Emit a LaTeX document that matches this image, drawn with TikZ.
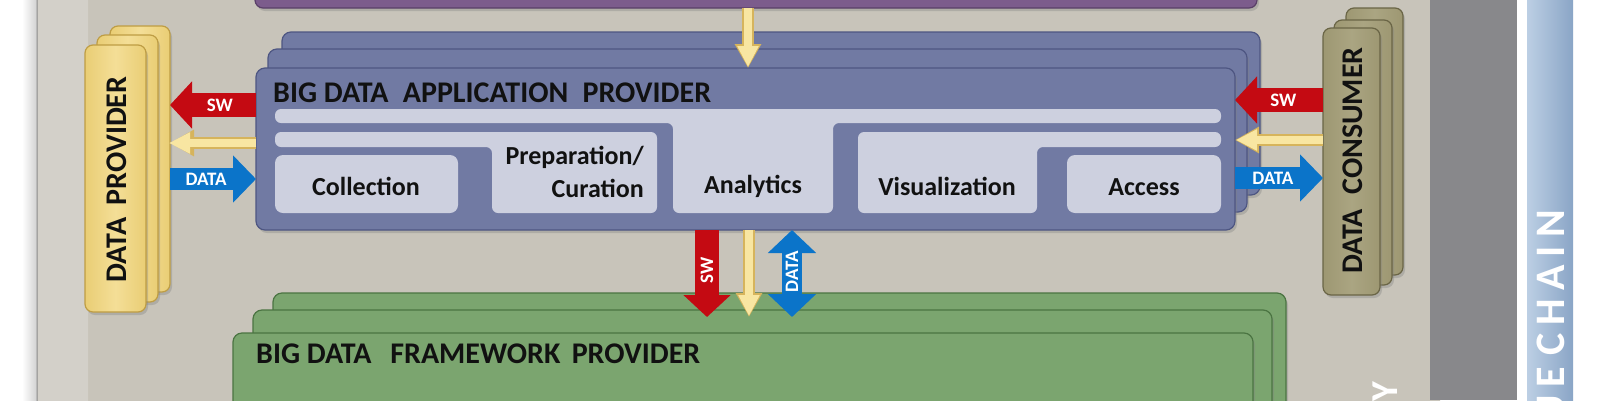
\documentclass[tikz,border=0pt]{standalone}
\usepackage{fontspec}
\setmainfont{Carlito}
\usetikzlibrary{arrows.meta,shadows,calc}
\definecolor{beige}{HTML}{C8C4BA}
\definecolor{beigeL}{HTML}{D3D0C9}
\definecolor{grayP}{HTML}{88888B}
\definecolor{vcL}{HTML}{BCCFE4}
\definecolor{vcR}{HTML}{8AA5C6}
\definecolor{purpF}{HTML}{7C5C8C}
\definecolor{purpD}{HTML}{5A4068}
\definecolor{appF}{HTML}{717AA3}
\definecolor{appD}{HTML}{4E5682}
\definecolor{appL}{HTML}{CDD0DF}
\definecolor{fwF}{HTML}{7BA56F}
\definecolor{fwD}{HTML}{4B7442}
\definecolor{dpF}{HTML}{F1D67D}
\definecolor{dpD}{HTML}{BE9D44}
\definecolor{dcF}{HTML}{A39D77}
\definecolor{dcD}{HTML}{6A6546}
\definecolor{arRed}{HTML}{C40A12}
\definecolor{arBlue}{HTML}{0B74C9}
\definecolor{arY}{HTML}{F8E6A2}
\definecolor{arYD}{HTML}{D6B45C}
\definecolor{ink}{HTML}{111111}
\newcommand\lsp{\kern8pt}
\tikzset{
  lay/.style={rounded corners=9pt, line width=1.2pt, outer sep=0pt, inner sep=0pt, anchor=north west,
    drop shadow={shadow xshift=2pt,shadow yshift=-3pt,opacity=.35}},
  applay/.style={lay, draw=appD, fill=appF},
  fwlay/.style={lay, draw=fwD, fill=fwF},
  dplay/.style={lay, rounded corners=8pt, draw=dpD, left color=dpF!85!dpD, right color=dpF!85!dpD, middle color=dpF!80!white},
  dclay/.style={lay, rounded corners=8pt, draw=dcD, left color=dcF!90!dcD, right color=dcF!90!dcD, middle color=dcF!92!white},
  inner/.style={fill=appL, rounded corners=6pt},
  title/.style={anchor=base west, inner sep=0pt, text=ink, font=\fontsize{30}{32}\selectfont\bfseries},
  sidetxt/.style={inner sep=0pt, rotate=90, text=ink, font=\fontsize{30}{32}\selectfont\bfseries},
  boxtxt/.style={anchor=base, inner sep=0pt, text=ink, font=\fontsize{26}{28}\selectfont\bfseries},
  lbl/.style={inner sep=0pt, text=white, font=\fontsize{19}{20}\selectfont\bfseries},
  bandtxt/.style={rotate=90, anchor=base east, inner sep=0pt, text=white, font=\fontsize{42}{44}\selectfont\bfseries},
  redarr/.style={draw=arRed, line width=24pt, -{Triangle[width=46pt,length=22pt]}},
  bluarr/.style={draw=arBlue, line width=22pt, -{Triangle[width=46pt,length=23pt]}},
  bludbl/.style={draw=arBlue, line width=20pt, {Triangle[width=47pt,length=23pt]}-{Triangle[width=47pt,length=23pt]}},
  ylwout/.style={draw=arYD, line width=12pt, -{Triangle[width=25pt,length=24pt]}},
  ylwarr/.style={draw=arY, line width=8pt, -{Triangle[width=20pt,length=21pt]}},
}
\begin{document}
\begin{tikzpicture}[x=1pt,y=-1pt]
\useasboundingbox (0,0) rectangle (1600,400);
\clip (0,0) rectangle (1600,400);
% background panels
\fill[white] (0,0) rectangle (1600,400);
\shade[left color=white, right color=black!18] (22,-40) rectangle (37,440);
\fill[beige, rounded corners=18pt] (37,-30) rectangle (1440,440);
\fill[beigeL, rounded corners=18pt] (37,-30) rectangle (88,440);
\draw[black!45, line width=1pt, rounded corners=18pt] (37,440) -- (37,-30) -- (120,-30);
\fill[grayP] (1430,0) rectangle (1517,400);
\shade[left color=vcL, right color=vcR] (1527,0) rectangle (1573,400);
\node[bandtxt] (vc) at (1564,210) {U\lsp E\kern2pt\ C\lsp H\lsp A\lsp I\lsp N};
\node[bandtxt, font=\fontsize{38}{40}\selectfont\bfseries] (sp) at (1397,382) {Y};
% orchestrator (top)
\node[lay, rounded corners=8pt, draw=purpD, fill=purpF, anchor=south west, minimum width=1002pt, minimum height=40pt] (orch) at (255,8) {};
% framework provider stack
\node[fwlay, minimum width=1013pt, minimum height=160pt] (fw3) at (273,293) {};
\node[fwlay, minimum width=1019pt, minimum height=150pt] (fw2) at (253,310) {};
\node[fwlay, minimum width=1020pt, minimum height=120pt] (fw) at (233,333) {};
\node[title] (fwt) at (256,363) {BIG DATA\hspace{0.4em} FRAMEWORK\hspace{0.15em} PROVIDER};
% application provider stack
\node[applay, minimum width=978pt, minimum height=163pt] (app3) at (282,32) {};
\node[applay, minimum width=979pt, minimum height=163pt] (app2) at (268,49) {};
\node[applay, minimum width=979pt, minimum height=162pt] (app) at (256,68) {};
\node[title] (appt) at (273,102) {BIG DATA\hspace{0.25em} APPLICATION\hspace{0.25em} PROVIDER};
% inner light shapes
\fill[inner] (275,109) -- (1221,109) -- (1221,123) -- (833,123) -- (833,213) -- (673,213) -- (673,123) -- (275,123) -- cycle;
\fill[inner] (275,132) -- (657,132) -- (657,213) -- (492,213) -- (492,147) -- (275,147) -- cycle;
\fill[inner] (858,132) -- (1221,132) -- (1221,147) -- (1037,147) -- (1037,213) -- (858,213) -- cycle;
\fill[inner, rounded corners=8pt] (275,155) rectangle (458,213);
\fill[inner, rounded corners=8pt] (1067,155) rectangle (1221,213);
\node[boxtxt] (col) at (366,195) {Collection};
\node[boxtxt, anchor=east, align=right, font=\fontsize{26}{33}\selectfont\bfseries] (prep) at (644,172) {Preparation/\\Curation};
\node[boxtxt] (ana) at (753,193) {Analytics};
\node[boxtxt] (vis) at (947,195) {Visualization};
\node[boxtxt] (acc) at (1144,195) {Access};
% data provider stack
\node[dplay, minimum width=60pt, minimum height=266pt] (dp3) at (110,26) {};
\node[dplay, minimum width=61pt, minimum height=267pt] (dp2) at (97,35) {};
\node[dplay, minimum width=61pt, minimum height=267pt] (dp) at (85,45) {};
\node[sidetxt] (dpt) at ($(dp.center)+(1,1)$) {DATA\hspace{0.2em} PROVIDER};
% data consumer stack
\node[dclay, minimum width=57pt, minimum height=267pt] (dc3) at (1346,8) {};
\node[dclay, minimum width=58pt, minimum height=265pt] (dc2) at (1334,20) {};
\node[dclay, minimum width=57pt, minimum height=267pt] (dc) at (1323,28) {};
\node[sidetxt] (dct) at ($(dc.center)+(1,-1)$) {DATA\hspace{0.25em} CONSUMER};
% helper coordinates
\coordinate (yL1) at (0,105);
\coordinate (yL2) at (0,143);
\coordinate (yL3) at (0,179);
\coordinate (yR1) at (0,100);
\coordinate (yR2) at (0,140);
\coordinate (yR3) at (0,178);
\coordinate (xT) at (748,0);
\coordinate (xSW) at (707,0);
\coordinate (xY) at (749,0);
\coordinate (xD) at (792,0);
\coordinate (yTip) at (0,317);
% left connectors
\draw[redarr] (app.west |- yL1) -- (dp3.east |- yL1) node[lbl, pos=.42] (swl) {SW};
\draw[ylwout] (app.west |- yL2) -- (dp3.east |- yL2);
\draw[ylwarr] (app.west |- yL2) -- ([xshift=-1pt]dp3.east |- yL2);
\draw[bluarr] (dp3.east |- yL3) -- (app.west |- yL3) node[lbl, pos=.42] (dal) {DATA};
% right connectors
\draw[redarr] (dc.west |- yR1) -- (app.east |- yR1) node[lbl, pos=.45] (swr) {SW};
\draw[ylwout] (dc.west |- yR2) -- (app.east |- yR2);
\draw[ylwarr] (dc.west |- yR2) -- ([xshift=1pt]app.east |- yR2);
\draw[bluarr] (app.east |- yR3) -- (dc.west |- yR3) node[lbl, pos=.43] (dar) {DATA};
% top connector
\draw[ylwout] (orch.south -| xT) -- (app.north -| xT);
\draw[ylwarr] (orch.south -| xT) -- ([yshift=1pt]app.north -| xT);
% bottom connectors
\draw[redarr] (app.south -| xSW) -- (xSW |- yTip) node[lbl, pos=.46, rotate=90] (swd) {SW};
\draw[ylwout] (app.south -| xY) -- (xY |- yTip);
\draw[ylwarr] (app.south -| xY) -- ([yshift=1pt]xY |- yTip);
\draw[bludbl] (app.south -| xD) -- (xD |- yTip) node[lbl, pos=.48, rotate=90] (dad) {DATA};
\end{tikzpicture}
\end{document}
